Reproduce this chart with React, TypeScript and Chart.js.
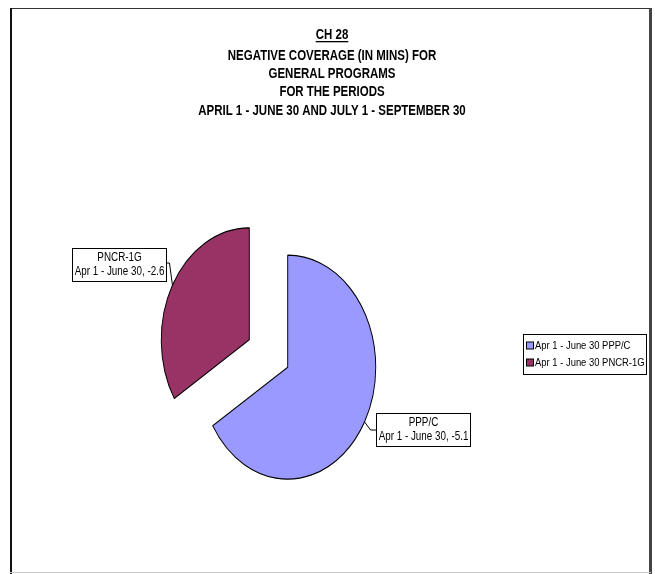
import React, { useEffect, useRef } from "react";
import { Chart, registerables } from "chart.js";

Chart.register(...registerables);

// ---- data ----
const categories = ["PPP/C", "PNCR-1G"];
const seriesName = "Apr 1 - June 30";
const values = [-5.1, -2.6];
const sliceColors = ["#9999FF", "#993366"];
const titleLines = [
  "CH 28",
  "NEGATIVE COVERAGE (IN MINS) FOR",
  "GENERAL PROGRAMS",
  "FOR THE PERIODS",
  "APRIL 1 - JUNE 30 AND JULY 1 - SEPTEMBER 30",
];

// ---- style ----
const W = 655;
const H = 574;
const FONT = '"Liberation Sans", Arial, sans-serif';
const NARROW = 0.82; // emulate Arial Narrow
const SX = 0.786; // horizontal squash of the pie (stretched picture)
const EXPLODE = 28;
const RADIUS = 112;

function narrowText(ctx: CanvasRenderingContext2D, text: string, x: number, y: number) {
  const w = ctx.measureText(text).width * NARROW;
  ctx.fillText(text, x, y, w);
  return w;
}

const framePlugin = {
  id: "frame",
  beforeDraw(chart: any) {
    const ctx = chart.ctx as CanvasRenderingContext2D;
    ctx.save();
    ctx.fillStyle = "#ffffff";
    ctx.fillRect(0, 0, W, H);
    ctx.fillStyle = "#333333";
    ctx.fillRect(10, 8, 641, 1);
    ctx.fillStyle = "#111111";
    ctx.fillRect(10, 8, 2, 566);
    ctx.fillStyle = "#444444";
    ctx.fillRect(649, 8, 3, 566);
    ctx.fillStyle = "#c8c8c8";
    ctx.fillRect(10, 572, 641, 1);
    ctx.restore();
  },
  afterDraw(chart: any) {
    const ctx = chart.ctx as CanvasRenderingContext2D;
    ctx.save();
    ctx.fillStyle = "#000000";
    ctx.textAlign = "center";
    ctx.textBaseline = "middle";
    ctx.font = `bold 14px ${FONT}`;
    const cx = 332;
    const ys = [35, 56, 74, 92, 111];
    titleLines.forEach((t, i) => {
      const w = narrowText(ctx, t, cx, ys[i]);
      if (i === 0) {
        ctx.fillRect(cx - w / 2, ys[i] + 6, w, 1.3);
      }
    });
    ctx.restore();
  },
};

const explodePlugin = {
  id: "explodePie",
  beforeDatasetDraw(chart: any, args: any) {
    const ctx = chart.ctx as CanvasRenderingContext2D;
    args.meta.data.forEach((arc: any) => {
      const { x, y, startAngle, endAngle } = arc.getProps(["x", "y", "startAngle", "endAngle"], true);
      const mid = (startAngle + endAngle) / 2;
      ctx.save();
      ctx.translate(x, y);
      ctx.scale(SX, 1);
      ctx.translate(Math.cos(mid) * EXPLODE, Math.sin(mid) * EXPLODE);
      ctx.translate(-x, -y);
      arc.draw(ctx);
      ctx.restore();
    });
    return false;
  },
  afterDatasetsDraw(chart: any) {
    const ctx = chart.ctx as CanvasRenderingContext2D;
    const meta = chart.getDatasetMeta(0);
    ctx.save();
    ctx.font = `12px ${FONT}`;
    ctx.textBaseline = "middle";
    ctx.textAlign = "center";
    meta.data.forEach((arc: any, i: number) => {
      const { x, y, startAngle, endAngle, outerRadius } = arc.getProps(
        ["x", "y", "startAngle", "endAngle", "outerRadius"],
        true
      );
      const mid = (startAngle + endAngle) / 2;
      const ax = x + SX * Math.cos(mid) * (EXPLODE + outerRadius);
      const ay = y + Math.sin(mid) * (EXPLODE + outerRadius);
      const l1 = categories[i];
      const l2 = `${seriesName}, ${values[i]}`;
      const tw = Math.max(ctx.measureText(l1).width, ctx.measureText(l2).width) * NARROW;
      const bw = Math.round(tw + 4);
      const bh = 33;
      let bx: number, by: number, cyBox: number;
      ctx.strokeStyle = "#000000";
      ctx.lineWidth = 1;
      ctx.beginPath();
      if (Math.cos(mid) >= 0) {
        bx = Math.round(ax + 11);
        cyBox = Math.round(ay + 8);
        by = cyBox - Math.round(bh / 2);
        ctx.moveTo(ax, ay);
        ctx.lineTo(ax + 6, cyBox);
        ctx.lineTo(bx, cyBox);
      } else {
        bx = Math.round(ax - 6 - bw);
        cyBox = Math.round(ay - 20);
        by = cyBox - Math.round(bh / 2);
        ctx.moveTo(ax, ay);
        ctx.lineTo(ax - 3, cyBox - 2);
        ctx.lineTo(bx + bw, cyBox - 2);
      }
      ctx.stroke();
      ctx.fillStyle = "#ffffff";
      ctx.fillRect(bx + 0.5, by + 0.5, bw, bh);
      ctx.strokeRect(bx + 0.5, by + 0.5, bw, bh);
      ctx.fillStyle = "#000000";
      const tcx = bx + 0.5 + bw / 2;
      narrowText(ctx, l1, tcx, by + 10);
      narrowText(ctx, l2, tcx, by + 24);
    });
    ctx.restore();
  },
};

const legendPlugin = {
  id: "boxLegend",
  afterDraw(chart: any) {
    const ctx = chart.ctx as CanvasRenderingContext2D;
    ctx.save();
    ctx.font = `11.5px ${FONT}`;
    ctx.textBaseline = "middle";
    ctx.textAlign = "left";
    const lx = 523;
    const ly = 334;
    const rowH = 17;
    const texts = categories.map((c) => `${seriesName} ${c}`);
    const tw = Math.max(...texts.map((t) => ctx.measureText(t).width)) * NARROW;
    const bw = Math.round(tw + 13);
    const bh = rowH * texts.length + 6;
    ctx.fillStyle = "#ffffff";
    ctx.fillRect(lx + 0.5, ly + 0.5, bw, bh);
    ctx.strokeStyle = "#000000";
    ctx.lineWidth = 1;
    ctx.strokeRect(lx + 0.5, ly + 0.5, bw, bh);
    texts.forEach((t, i) => {
      const ry = ly + 3 + rowH * i + rowH / 2;
      ctx.fillStyle = sliceColors[i];
      ctx.fillRect(lx + 3.5, ry - 3.5, 7, 7);
      ctx.strokeRect(lx + 3.5, ry - 3.5, 7, 7);
      ctx.fillStyle = "#000000";
      narrowText(ctx, t, lx + 12, ry);
    });
    ctx.restore();
  },
};

export default function App() {
  const canvasRef = useRef<HTMLCanvasElement | null>(null);

  useEffect(() => {
    if (!canvasRef.current) return;
    const chart = new Chart(canvasRef.current, {
      type: "pie",
      data: {
        labels: categories,
        datasets: [
          {
            label: seriesName,
            data: values,
            backgroundColor: sliceColors,
            borderColor: "#000000",
            borderWidth: 1.2,
            hoverOffset: 0,
          },
        ],
      },
      options: {
        responsive: false,
        devicePixelRatio: 1,
        animation: false,
        radius: RADIUS,
        rotation: 0,
        layout: { padding: { left: 0, right: 118, top: 133, bottom: 0 } },
        plugins: {
          legend: { display: false },
          title: { display: false },
          tooltip: { enabled: false },
        },
        events: [],
      } as any,
      plugins: [framePlugin, explodePlugin, legendPlugin],
    });
    return () => chart.destroy();
  }, []);

  return (
    <div style={{ position: "fixed", left: 0, top: 0, width: W, height: H, background: "#fff" }}>
      <canvas ref={canvasRef} width={W} height={H} style={{ width: W, height: H, display: "block" }} />
    </div>
  );
}
